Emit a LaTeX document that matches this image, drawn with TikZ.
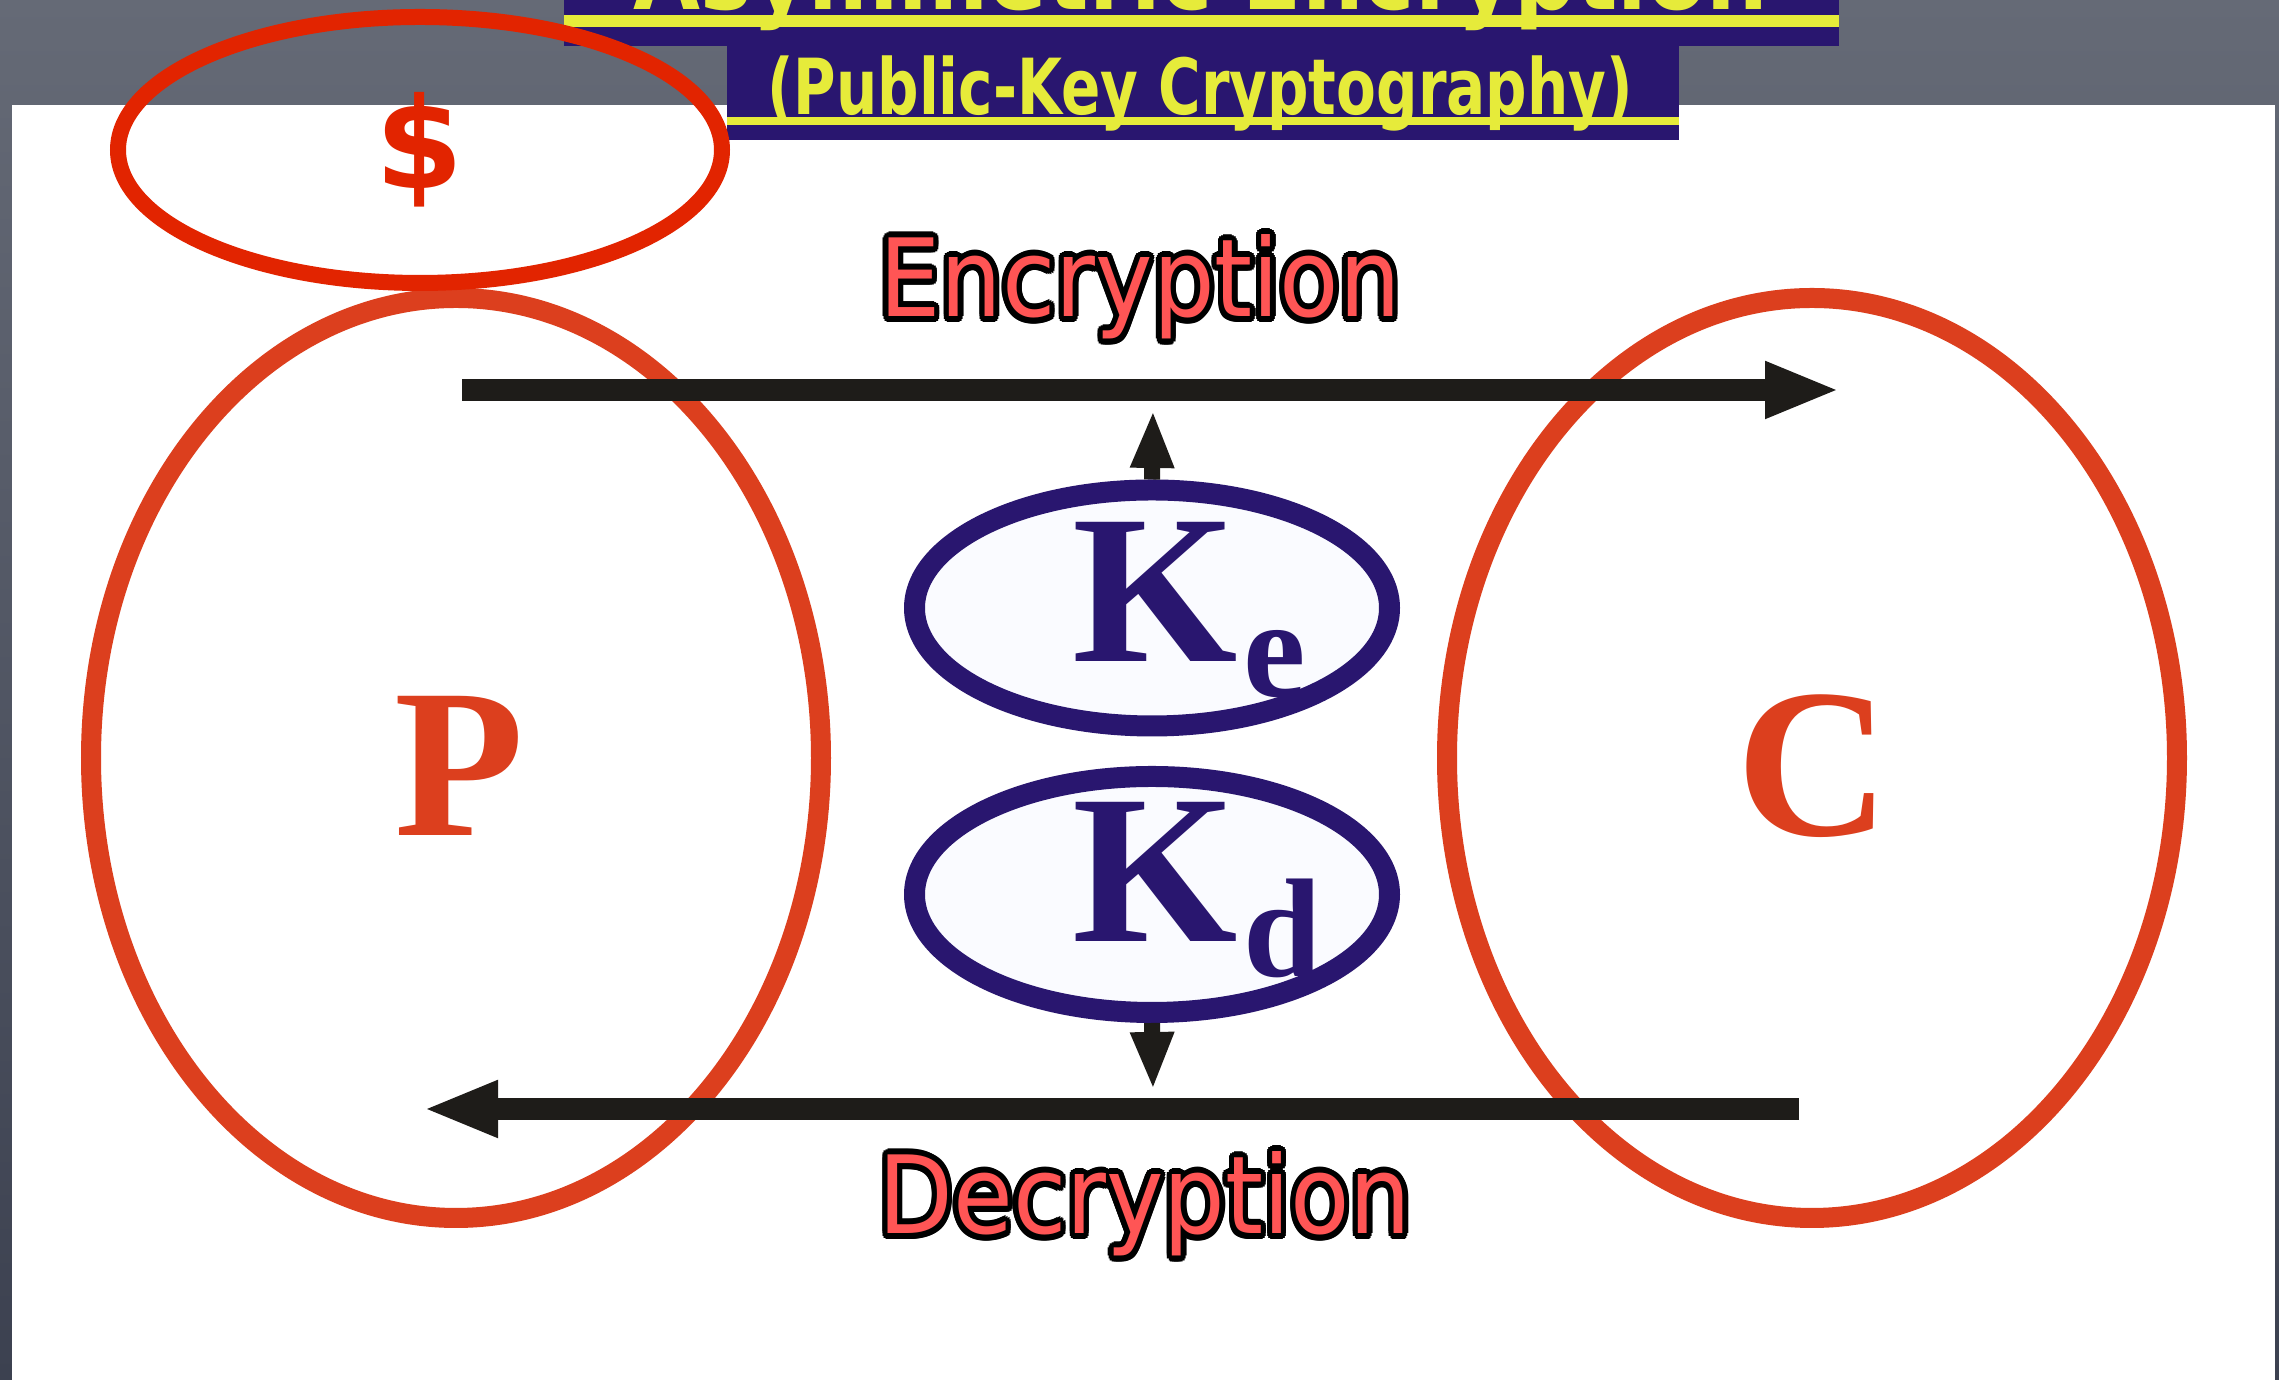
\documentclass[tikz,border=0pt]{standalone}
\usepackage{fontspec}
\setmainfont{Liberation Serif}
\newfontfamily\dejavu{DejaVu Sans}
\usepackage{contour}
\contourlength{0.06cm}
\usetikzlibrary{arrows.meta,shapes.geometric}

\definecolor{slate}{HTML}{656A76}
\definecolor{slatedark}{HTML}{3C4150}
\definecolor{banner}{HTML}{29166F}
\definecolor{lemon}{HTML}{E6EB3A}
\definecolor{coin}{HTML}{E22400}
\definecolor{party}{HTML}{DC3F1E}
\definecolor{keyblue}{HTML}{29166F}
\definecolor{keyfill}{HTML}{FAFBFF}
\definecolor{ink}{HTML}{1E1C19}
\definecolor{salmon}{HTML}{FF5555}

\newcommand\keysub[1]{\rlap{\kern0.06cm\raisebox{-0.35cm}{\fontsize{40}{40}\selectfont #1}}}

\begin{document}
\begin{tikzpicture}[
    partyring/.style={draw=party, line width=0.2cm, ellipse, inner sep=0pt,
      minimum width=7.3cm, minimum height=9.2cm},
    partyletter/.style={text=party, inner sep=0pt, font=\bfseries\fontsize{60.5}{60}\selectfont},
    keyring/.style={draw=keyblue, fill=keyfill, line width=0.21cm, ellipse, inner sep=0pt,
      minimum width=4.75cm, minimum height=2.36cm},
    keyletter/.style={text=keyblue, inner sep=0pt, font=\bfseries\fontsize{60.5}{60}\selectfont},
    flow/.style={draw=ink, line width=0.22cm, -{Triangle[length=0.75cm,width=0.52cm]}},
    keyflow/.style={draw=ink, line width=0.16cm, -{Triangle[length=0.58cm,width=0.40cm]}},
    caption/.style={text=salmon, inner sep=0pt, xscale=0.9, font=\dejavu\fontsize{30.7}{30}\selectfont},
    headline/.style={text=lemon, inner sep=0pt, font=\dejavu}]
  \useasboundingbox (0,0) rectangle (22.79,13.80);
  \clip (0,0) rectangle (22.79,13.80);

  % slide background
  \shade[top color=slate, bottom color=slatedark] (0,0) rectangle (22.79,13.80);
  \fill[white] (0.12,0) rectangle (22.75,12.75);

  % title banners
  \fill[banner] (5.64,13.34) rectangle (18.39,13.80);
  \fill[lemon] (5.64,13.53) rectangle (18.39,13.65);
  \node[headline, anchor=base, font=\dejavu\bfseries\fontsize{28}{28}\selectfont, xscale=0.88] (title) at (12.01,13.70) {Asymmetric Encryption};
  \fill[banner] (7.27,12.40) rectangle (16.79,13.34);
  \fill[lemon] (7.27,12.55) rectangle (16.79,12.63);
  \node[headline, anchor=base, xscale=0.75, font=\dejavu\bfseries\fontsize{22}{22}\selectfont] (subtitle) at (12.00,12.65) {(Public-Key Cryptography)};

  % plaintext and ciphertext
  \node[partyring] (pside) at (4.56,6.22) {};
  \node[partyring] (cside) at (18.12,6.22) {};
  \node[partyletter, anchor=base] (plbl) at (4.59,5.44) {P};
  \node[partyletter, anchor=base] (clbl) at (18.13,5.44) {C};

  % the coin
  \node[draw=coin, line width=0.16cm, ellipse, inner sep=0pt,
    minimum width=6.04cm, minimum height=2.66cm] (coinring) at (4.20,12.30) {};
  \node[text=coin, inner sep=0pt, font=\dejavu\bfseries\fontsize{36}{36}\selectfont] (dollar) at (coinring.center) {\$};

  % encryption / decryption
  \coordinate (encfrom) at (4.62,9.90);
  \coordinate (encto) at (18.40,9.90);
  \coordinate (decfrom) at (17.99,2.71);
  \coordinate (decto) at (4.23,2.71);
  \draw[flow] (encfrom) -- (encto);
  \draw[flow] (decfrom) -- (decto);
  \node[caption, anchor=base] (enclbl) at (11.40,10.63) {\contour{black}{Encryption}};
  \node[caption, anchor=base] (declbl) at (11.45,1.46) {\contour{black}{Decryption}};

  % keys
  \node[keyring] (ke) at (11.52,7.72) {};
  \node[keyring] (kd) at (11.52,4.855) {};
  \node[keyletter, anchor=base] (ketxt) at (11.55,7.18) {K\keysub{e}};
  \node[keyletter, anchor=base] (kdtxt) at (11.55,4.38) {K\keysub{d}};
  \coordinate (keup) at (11.53,9.70);
  \coordinate (kddown) at (11.53,2.90);
  \draw[keyflow] (ke.north) -- (keup);
  \draw[keyflow] (kd.south) -- (kddown);
\end{tikzpicture}
\end{document}
